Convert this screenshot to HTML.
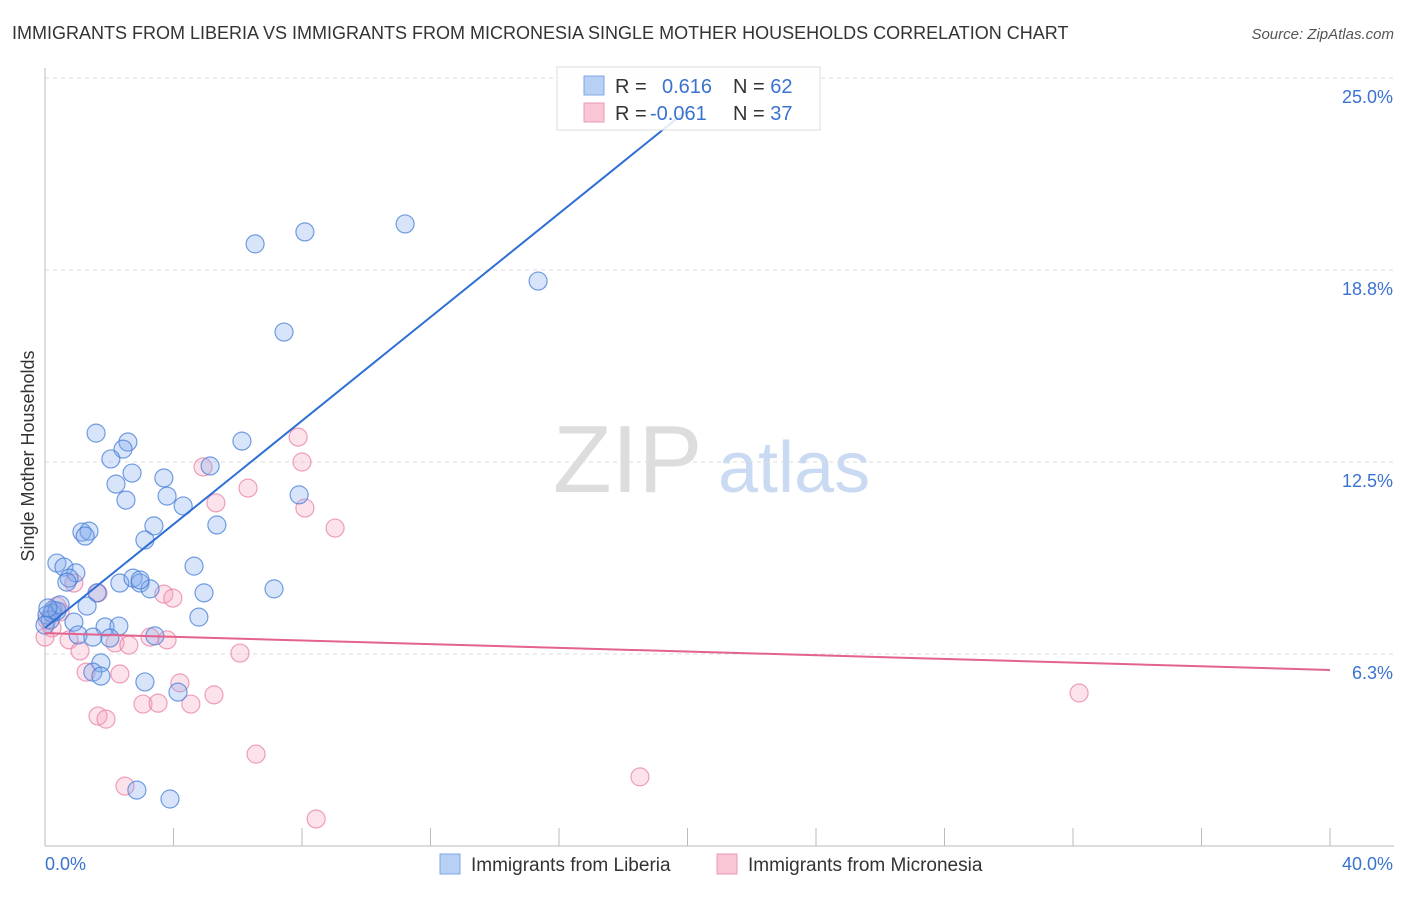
<!DOCTYPE html>
<html><head><meta charset="utf-8"><style>
body{margin:0;background:#fff;font-family:"Liberation Sans",sans-serif;}
svg text{font-family:"Liberation Sans",sans-serif;}
</style></head><body>
<svg id="chart" width="1406" height="892" xmlns="http://www.w3.org/2000/svg">
<text x="12" y="39" font-size="18" fill="#333">IMMIGRANTS FROM LIBERIA VS IMMIGRANTS FROM MICRONESIA SINGLE MOTHER HOUSEHOLDS CORRELATION CHART</text>
<text x="1394" y="39" font-size="15" fill="#555" font-style="italic" text-anchor="end">Source: ZipAtlas.com</text>
<g>
<text x="553" y="492" font-size="96" fill="#ddd" font-family="Liberation Serif">ZIP</text>
<text x="718" y="492" font-size="72" fill="#c9daf2">atlas</text>
</g>
<g id="grid"></g>
<g id="axes"></g>
<g id="points"></g>
<g id="lines"></g>
<text transform="translate(34,456) rotate(-90)" font-size="18" fill="#333" text-anchor="middle">Single Mother Households</text>
<g>
<rect x="557" y="67" width="263" height="63" fill="rgba(255,255,255,0.85)" stroke="#ddd"/>
<rect x="584" y="76" width="20" height="19" fill="#b7d0f4" stroke="#7ea6e6"/>
<rect x="584" y="103" width="20" height="19" fill="#f9c6d6" stroke="#ec9ab3"/>
<text x="615" y="93" font-size="20" fill="#333">R = <tspan x="662" fill="#3a72d0">0.616</tspan></text>
<text x="733" y="93" font-size="20" fill="#333">N = <tspan fill="#3a72d0">62</tspan></text>
<text x="615" y="120" font-size="20" fill="#333">R = <tspan x="650" fill="#3a72d0">-0.061</tspan></text>
<text x="733" y="120" font-size="20" fill="#333">N = <tspan fill="#3a72d0">37</tspan></text>
</g>
<g>
<rect x="440" y="854" width="20" height="20" fill="#b7d0f4" stroke="#7ea6e6"/>
<text x="471" y="871" font-size="19" fill="#333">Immigrants from Liberia</text>
<rect x="717" y="854" width="20" height="20" fill="#f9c6d6" stroke="#ec9ab3"/>
<text x="748" y="871" font-size="19" fill="#333">Immigrants from Micronesia</text>
</g>
</svg>
<script>
const yTicks=[6.25,12.5,18.75,25];
const yTickLabels=["6.3%","12.5%","18.8%","25.0%"];
const xTickVals=[0,4,8,12,16,20,24,28,32,36,40];
const xEndLabels=["0.0%","40.0%"];
const liberiaX=[6.54,8.09,11.21,15.35,7.44,1.59,2.58,2.43,6.13,5.14,2.05,2.71,3.70,2.21,3.80,2.52,4.30,7.91,5.35,3.39,1.15,1.37,1.25,3.11,4.64,0.37,0.59,0.96,0.75,0.68,2.33,2.74,2.96,3.27,1.62,4.95,7.13,1.31,0.25,0.06,0.16,0.90,1.87,2.30,4.79,3.42,2.02,1.03,1.49,1.74,1.49,1.74,3.11,4.14,2.86,3.89,0.22,0.37,0.0,0.47,0.09,2.96];
const liberiaY=[19.60,19.99,20.25,18.39,16.73,13.44,13.15,12.92,13.18,12.37,12.60,12.14,11.98,11.78,11.39,11.26,11.07,11.43,10.45,10.42,10.22,10.25,10.09,9.96,9.11,9.21,9.08,8.89,8.72,8.59,8.56,8.72,8.56,8.37,8.24,8.24,8.37,7.81,7.68,7.52,7.36,7.29,7.13,7.16,7.45,6.84,6.77,6.87,6.80,5.96,5.66,5.53,5.34,5.01,1.82,1.53,7.58,7.65,7.19,7.85,7.75,8.66];
const micronesiaX=[7.88,8.00,4.92,6.32,5.32,8.09,9.03,0.90,1.65,3.70,3.98,0.37,0.47,0.06,0.22,0.0,0.75,1.09,2.18,2.61,3.27,3.80,6.07,1.28,2.33,4.20,5.26,3.05,3.52,4.54,1.65,1.90,6.57,2.49,8.44,18.52,32.19];
const micronesiaY=[13.31,12.50,12.34,11.65,11.17,11.00,10.35,8.56,8.24,8.20,8.07,7.81,7.62,7.36,7.10,6.80,6.71,6.35,6.61,6.54,6.80,6.71,6.28,5.66,5.60,5.31,4.92,4.62,4.65,4.62,4.23,4.13,2.99,1.95,0.88,2.25,4.98];
const liberiaTrend=[0,7.10,20,23.96];
const micronesiaTrend=[0,6.93,40,5.73];
const NS="http://www.w3.org/2000/svg";
function xs(v){return 45+v*32.125;}
function ys(v){return 846-v*30.72;}
function mk(tag,attrs,parent){const e=document.createElementNS(NS,tag);for(const k in attrs)e.setAttribute(k,attrs[k]);document.getElementById(parent).appendChild(e);return e;}
yTicks.forEach((t,i)=>{
 const g=mk('line',{x1:45,x2:1394,y1:ys(t),y2:ys(t),stroke:'#ddd','stroke-dasharray':'4,4'},'grid');
 
 
 const l=mk('text',{x:1393,y:ys(t)+25,'font-size':18,fill:'#3a72d0','text-anchor':'end'},'axes');
 l.textContent=yTickLabels[i];
 
 
});
const ax=mk('line',{x1:45,x2:45,y1:68,y2:846,stroke:'#bbb'},'axes');


const bx=mk('line',{x1:45,x2:1394,y1:846,y2:846,stroke:'#bbb'},'axes');


xTickVals.forEach(t=>{
 const k=mk('line',{x1:xs(t),x2:xs(t),y1:828,y2:846,stroke:'#bbb'},'axes');
 
 
});
const xl0=mk('text',{x:45,y:870,'font-size':18,fill:'#3a72d0'},'axes');
xl0.textContent=xEndLabels[0];


const xl1=mk('text',{x:1393,y:870,'font-size':18,fill:'#3a72d0','text-anchor':'end'},'axes');
xl1.textContent=xEndLabels[1];


micronesiaX.forEach((x,i)=>{
 const c=mk('circle',{cx:xs(x),cy:ys(micronesiaY[i]),r:9,fill:'rgba(244,160,190,0.3)',stroke:'rgba(232,130,165,0.75)','stroke-width':1.2},'points');
 
 
});
liberiaX.forEach((x,i)=>{
 const c=mk('circle',{cx:xs(x),cy:ys(liberiaY[i]),r:9,fill:'rgba(130,170,235,0.32)',stroke:'rgba(70,125,215,0.75)','stroke-width':1.2},'points');
 
 
});
const t1=mk('line',{x1:xs(liberiaTrend[0]),y1:ys(liberiaTrend[1]),x2:xs(liberiaTrend[2]),y2:ys(liberiaTrend[3]),stroke:'#2d6fd6','stroke-width':2},'lines');


const t2=mk('line',{x1:xs(micronesiaTrend[0]),y1:ys(micronesiaTrend[1]),x2:xs(micronesiaTrend[2]),y2:ys(micronesiaTrend[3]),stroke:'#e3628e','stroke-width':2},'lines');


</script>
</body></html>
